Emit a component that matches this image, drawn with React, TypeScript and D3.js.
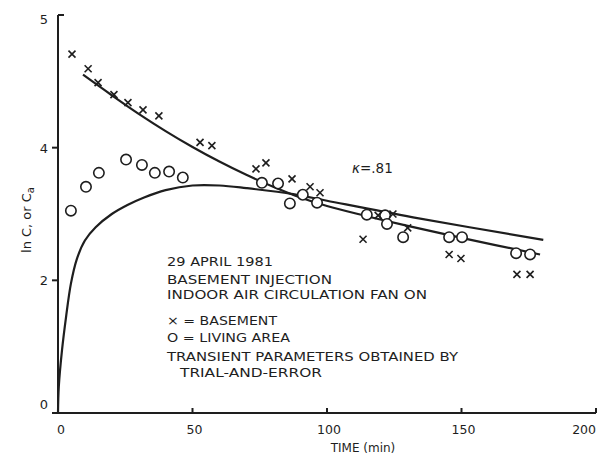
import React from 'react';
import * as d3 from 'd3';

const basementTime = [5.2, 11.2, 14.9, 20.8, 26, 31.6, 37.5, 52.8, 57.2, 73.6, 77.3, 87, 93.7, 97.4, 113.4, 119, 124.5, 130, 145.4, 149.8, 170.6, 175.5];
const basementLn = [5.41, 5.19, 4.98, 4.80, 4.68, 4.57, 4.48, 4.08, 4.03, 3.68, 3.77, 3.53, 3.41, 3.32, 2.62, 2.98, 3.0, 2.79, 2.39, 2.33, 2.09, 2.09];

const livingTime = [4.8, 10.4, 15.2, 25.3, 31.2, 36, 41.3, 46.4, 75.8, 81.8, 86.2, 91, 96.3, 114.8, 121.6, 122.3, 128.3, 145.4, 150.2, 170.3, 175.5];
const livingLn = [3.05, 3.41, 3.62, 3.82, 3.74, 3.62, 3.64, 3.55, 3.47, 3.46, 3.16, 3.29, 3.17, 2.99, 2.98, 2.85, 2.65, 2.65, 2.65, 2.41, 2.39];

// fitted model curves
const basementFitTime = [9.3, 20, 30, 40, 50, 60, 70, 80, 88, 100, 114.5, 130, 150, 179.2];
const basementFitLn = [5.10, 4.79, 4.51, 4.25, 4.01, 3.79, 3.59, 3.41, 3.28, 3.12, 2.97, 2.82, 2.64, 2.39];

const livingFitTime = [0, 0.3, 1.5, 3.0, 4.8, 7.0, 10, 14, 20, 26, 32, 40, 50, 60, 70, 87.4, 100, 132, 180.4];
const livingFitLn = [0, 0.4, 0.95, 1.45, 1.95, 2.32, 2.6, 2.8, 3.0, 3.14, 3.25, 3.36, 3.43, 3.43, 3.39, 3.30, 3.20, 2.95, 2.61];

const xTicks = [0, 50, 100, 150, 200];
const xTickLabels = ['0', '50', '100', '150', '200'];
const yTicks = [0, 2, 4, 6];
const yTickLabels = ['0', '2', '4', '5'];

const noteLines = [
  '29 APRIL 1981',
  'BASEMENT INJECTION',
  'INDOOR AIR CIRCULATION FAN ON',
  '\u00d7 = BASEMENT',
  'O = LIVING AREA',
  'TRANSIENT PARAMETERS OBTAINED BY',
  'TRIAL-AND-ERROR',
];

const ink = '#1e1e1e';
const font = 'DejaVu Sans, sans-serif';

export default function App() {
  const x = d3.scaleLinear().domain([0, 200]).range([58, 596]);
  const y = d3.scaleLinear().domain([0, 6]).range([413, 15]);

  const line = d3
    .line<[number, number]>()
    .x(d => x(d[0]))
    .y(d => y(d[1]))
    .curve(d3.curveCatmullRom.alpha(0.5));

  const basementFit = line(basementFitTime.map((t, i) => [t, basementFitLn[i]]));
  const livingFit = line(livingFitTime.map((t, i) => [t, livingFitLn[i]]));

  // note block baselines / widths measured on the figure
  const noteY = [266, 284, 299, 325, 342, 361, 377];
  const noteX = [167, 167, 167, 167, 167, 167, 180];
  const noteW = [106, 165, 260, 110, 123, 291, 142];

  return (
    <svg width={606} height={459} style={{ position: 'absolute', left: 0, top: 0, background: '#fff' }}>
      {/* axes */}
      <g stroke={ink} strokeWidth={2} fill="none">
        <line x1={x(0)} x2={x(0)} y1={y(6)} y2={y(0)} />
        <line x1={x(0)} x2={x(200)} y1={y(0)} y2={y(0)} />
        {yTicks.map((v, i) =>
          i === yTicks.length - 1 ? (
            <line key={v} x1={x(0)} x2={x(0) + 6} y1={y(v)} y2={y(v)} />
          ) : (
            <line key={v} x1={x(0) - 6} x2={x(0)} y1={y(v)} y2={y(v)} />
          )
        )}
        {xTicks.slice(1).map(t => (
          <line key={t} x1={x(t)} x2={x(t)} y1={y(0)} y2={y(0) - 5} />
        ))}
      </g>

      <g fill={ink} fontFamily={font} fontSize={13}>
        {xTicks.map((t, i) => (
          <text
            key={t}
            x={i === xTicks.length - 1 ? x(t) : x(t) + (i === 0 ? 3 : 2)}
            y={434}
            fontSize={12.5}
            textAnchor={i === xTicks.length - 1 ? 'end' : 'middle'}
          >
            {xTickLabels[i]}
          </text>
        ))}
        {yTicks.map((v, i) => (
          <text key={v} x={x(0) - 10} y={y(v) + (i === 0 ? -4 : i === yTicks.length - 1 ? 9 : 5)} textAnchor="end">
            {yTickLabels[i]}
          </text>
        ))}
        <text x={363} y={452} textAnchor="middle" fontSize={12}>
          TIME (min)
        </text>
        <text transform="translate(31,220) rotate(-90)" textAnchor="middle" fontSize={13}>
          ln C, or C<tspan fontSize={10} dy={3}>a</tspan>
        </text>
        <text x={352} y={173} fontSize={13.5}>
          <tspan fontStyle="italic">κ</tspan>=.81
        </text>
        {noteLines.map((s, i) => (
          <text
            key={s}
            x={noteX[i]}
            y={noteY[i]}
            fontSize={12}
            textLength={noteW[i]}
            lengthAdjust="spacingAndGlyphs"
          >
            {s}
          </text>
        ))}
      </g>

      {/* fitted curves */}
      <path d={basementFit ?? ''} fill="none" stroke={ink} strokeWidth={2.2} />
      <path d={livingFit ?? ''} fill="none" stroke={ink} strokeWidth={2.2} />

      {/* living area circles */}
      <g fill="#fff" stroke={ink} strokeWidth={1.6}>
        {livingTime.map((t, i) => (
          <circle key={i} cx={x(t)} cy={y(livingLn[i])} r={5.2} />
        ))}
      </g>

      {/* basement crosses */}
      <g stroke={ink} strokeWidth={1.6}>
        {basementTime.map((t, i) => {
          const cx = x(t);
          const cy = y(basementLn[i]);
          const s = 3.5;
          return (
            <g key={i}>
              <line x1={cx - s} x2={cx + s} y1={cy - s} y2={cy + s} />
              <line x1={cx - s} x2={cx + s} y1={cy + s} y2={cy - s} />
            </g>
          );
        })}
      </g>
    </svg>
  );
}
